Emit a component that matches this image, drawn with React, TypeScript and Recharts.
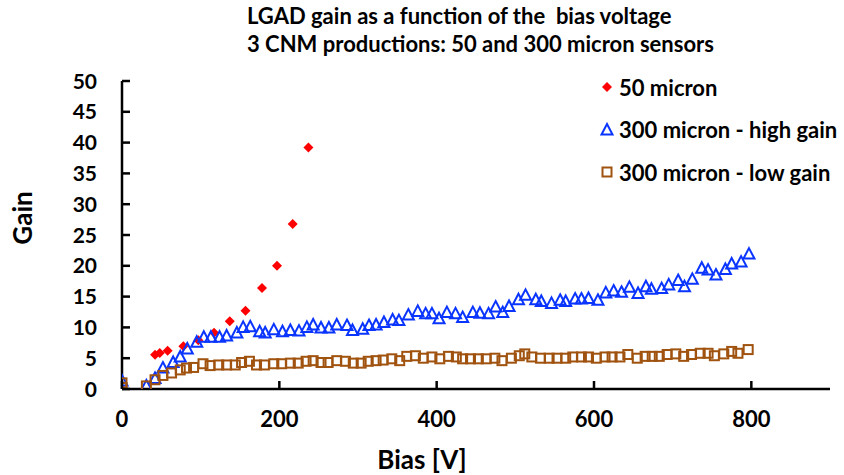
import React from "react";
import { ScatterChart, Scatter, XAxis, YAxis } from "recharts";

const xTicks = [0, 200, 400, 600, 800];
const yTicks = [0, 5, 10, 15, 20, 25, 30, 35, 40, 45, 50];

const micron50X = [42, 48, 58, 78, 97, 117, 137, 157, 178, 197, 217, 237];
const micron50Y = [5.55, 5.85, 6.2, 6.95, 7.9, 9.15, 11.0, 12.7, 16.4, 20.0, 26.8, 39.2];

const highGainX = [
  0, 31, 42, 52, 65, 74, 83, 95, 104, 113, 124, 133, 146, 154, 163, 175, 182, 193, 204, 214,
  225, 235, 243, 253, 263, 273, 286, 293, 306, 314, 323, 333, 344, 352, 364, 376, 386, 394, 403, 413,
  424, 433, 446, 455, 466, 475, 484, 492, 504, 513, 526, 533, 546, 557, 564, 576, 584, 593, 605, 615,
  625, 635, 645, 656, 666, 673, 686, 695, 707, 715, 725, 737, 745, 755, 767, 775, 787, 797,
];
const highGainY = [
  1.3, 0.5, 1.7, 3.4, 4.3, 5.2, 6.5, 7.6, 8.4, 8.4, 8.4, 8.6, 9.1, 10.0, 10.1, 9.3, 9.1, 9.6, 9.3, 9.5,
  9.4, 10.0, 10.4, 9.9, 9.9, 10.4, 10.3, 9.5, 9.7, 10.3, 10.4, 10.8, 11.2, 11.1, 12.0, 12.6, 12.2, 12.2, 11.4, 12.4,
  12.2, 11.6, 12.4, 12.3, 12.2, 13.3, 12.4, 13.4, 14.5, 15.2, 14.5, 14.2, 13.9, 14.4, 14.2, 14.6, 14.6, 14.7, 14.4, 15.6,
  15.9, 15.7, 16.5, 15.5, 16.6, 16.2, 16.3, 16.9, 17.6, 16.6, 17.8, 19.6, 19.3, 18.5, 19.4, 20.3, 20.6, 21.9,
];

const lowGainX = [
  0, 0, 31, 42, 52, 63, 74, 82, 91, 103, 112, 123, 133, 144, 152, 162, 171, 181, 193, 203,
  214, 224, 234, 243, 253, 262, 273, 284, 294, 304, 313, 323, 332, 343, 353, 362, 373, 383, 394, 404,
  415, 425, 433, 443, 453, 463, 474, 483, 495, 505, 512, 521, 532, 543, 553, 564, 573, 584, 593, 603,
  614, 623, 633, 643, 655, 665, 674, 683, 693, 704, 714, 724, 735, 745, 753, 765, 775, 783, 796,
];
const lowGainY = [
  1.0, 0.25, 0.5, 1.5, 2.2, 2.6, 3.1, 3.4, 3.5, 4.1, 3.8, 3.9, 3.9, 3.9, 4.3, 4.5, 3.9, 3.9, 4.1, 4.1,
  4.2, 4.2, 4.5, 4.6, 4.3, 4.3, 4.6, 4.5, 4.2, 4.2, 4.5, 4.6, 4.7, 4.9, 4.6, 5.3, 5.4, 5.0, 5.2, 4.9,
  5.3, 5.2, 4.9, 4.9, 4.9, 4.9, 5.0, 4.6, 5.0, 5.4, 5.7, 5.2, 5.0, 5.0, 5.0, 5.0, 5.2, 5.2, 5.2, 5.0,
  5.2, 5.2, 5.2, 5.6, 5.0, 5.3, 5.3, 5.3, 5.6, 5.7, 5.3, 5.6, 5.8, 5.8, 5.4, 5.7, 6.1, 5.8, 6.4,
];

const zip = (xs: number[], ys: number[]) => xs.map((x, i) => ({ x, y: ys[i] }));
const micron50 = zip(micron50X, micron50Y);
const highGain = zip(highGainX, highGainY);
const lowGain = zip(lowGainX, lowGainY);

const RED = "#FF0000";
const BLUE = "#0A35FF";
const BROWN = "#A0520F";
const FONT = "Lato, 'Open Sans', sans-serif";

const Diamond = (p: any) => {
  const { cx, cy } = p;
  if (cx == null || cy == null) return null;
  const r = 5;
  return <path d={`M${cx},${cy - r}L${cx + r},${cy}L${cx},${cy + r}L${cx - r},${cy}Z`} fill={RED} />;
};
const Triangle = (p: any) => {
  const { cx, cy } = p;
  if (cx == null || cy == null) return null;
  return (
    <path
      d={`M${cx},${cy - 6}L${cx + 5.5},${cy + 4.5}L${cx - 5.5},${cy + 4.5}Z`}
      fill="none"
      stroke={BLUE}
      strokeWidth={2}
    />
  );
};
const Square = (p: any) => {
  const { cx, cy } = p;
  if (cx == null || cy == null) return null;
  return <rect x={cx - 4.5} y={cy - 4.5} width={9} height={9} fill="none" stroke={BROWN} strokeWidth={2} />;
};

const XTick = (p: any) => {
  const { x, y, payload } = p;
  return (
    <g>
      <line x1={x} x2={x} y1={y} y2={y - 8} stroke="#000" strokeWidth={2.5} />
      <text x={x} y={y + 38} textAnchor="middle" fontFamily={FONT} fontWeight={700} fontSize={22} fill="#000">
        {payload.value}
      </text>
    </g>
  );
};
const YTick = (p: any) => {
  const { x, y, payload } = p;
  return (
    <g>
      <line x1={x} x2={x + 8} y1={y} y2={y} stroke="#000" strokeWidth={2.5} />
      <text x={x - 25} y={y + 7.5} textAnchor="end" fontFamily={FONT} fontWeight={700} fontSize={21} fill="#000">
        {payload.value}
      </text>
    </g>
  );
};

const legendItems = [
  { label: "50 micron", Icon: Diamond },
  { label: "300 micron - high gain", Icon: Triangle },
  { label: "300 micron - low gain", Icon: Square },
];

export default function App() {
  return (
    <div style={{ position: "absolute", left: 0, top: 0, width: 844, height: 475, background: "#fff" }}>
      <div
        style={{
          position: "absolute",
          left: 247,
          width: 400,
          top: 2,
          textAlign: "center",
          fontFamily: FONT,
          fontWeight: 700,
          fontSize: 22,
          lineHeight: "28px",
          color: "#000",
          whiteSpace: "nowrap",
          zIndex: 2,
        }}
      >
        <div>LGAD gain as a function of the&nbsp; bias voltage</div>
        <div>3 CNM productions: 50 and 300 micron sensors</div>
      </div>
      <div
        style={{
          position: "absolute",
          left: 372,
          width: 100,
          top: 444,
          textAlign: "center",
          fontFamily: FONT,
          fontWeight: 700,
          fontSize: 26,
          lineHeight: "30px",
          color: "#000",
          zIndex: 2,
        }}
      >
        Bias [V]
      </div>
      <div
        style={{
          position: "absolute",
          left: -28,
          width: 100,
          top: 203,
          textAlign: "center",
          fontFamily: FONT,
          fontWeight: 700,
          fontSize: 26,
          lineHeight: "30px",
          color: "#000",
          transform: "rotate(-90deg)",
          zIndex: 2,
        }}
      >
        Gain
      </div>
      <div
        style={{
          position: "absolute",
          left: 599,
          top: 66,
          width: 245,
          fontFamily: FONT,
          fontWeight: 700,
          fontSize: 22,
          color: "#000",
          zIndex: 2,
          whiteSpace: "nowrap",
        }}
      >
        {legendItems.map(({ label, Icon }) => (
          <div key={label} style={{ display: "flex", alignItems: "center", height: 42.5 }}>
            <svg width={16} height={16} style={{ marginRight: 4 }}>
              <Icon cx={8} cy={8} />
            </svg>
            <span>{label}</span>
          </div>
        ))}
      </div>
      <ScatterChart width={844} height={475} margin={{ top: 81, right: 14, bottom: 0, left: 0 }}>
        <XAxis
          type="number"
          dataKey="x"
          domain={[0, 900]}
          ticks={xTicks}
          allowDataOverflow
          axisLine={{ stroke: "#000", strokeWidth: 2.5 }}
          tickLine={false}
          tickSize={0}
          tickMargin={0}
          tick={<XTick />}
          height={86}
        />
        <YAxis
          type="number"
          dataKey="y"
          domain={[0, 50]}
          ticks={yTicks}
          allowDataOverflow
          axisLine={{ stroke: "#000", strokeWidth: 2.5 }}
          tickLine={false}
          tickSize={0}
          tickMargin={0}
          tick={<YTick />}
          width={122}
        />
        <Scatter name="50 micron" data={micron50} shape={<Diamond />} isAnimationActive={false} />
        <Scatter name="300 micron - high gain" data={highGain} shape={<Triangle />} isAnimationActive={false} />
        <Scatter name="300 micron - low gain" data={lowGain} shape={<Square />} isAnimationActive={false} />
      </ScatterChart>
    </div>
  );
}
